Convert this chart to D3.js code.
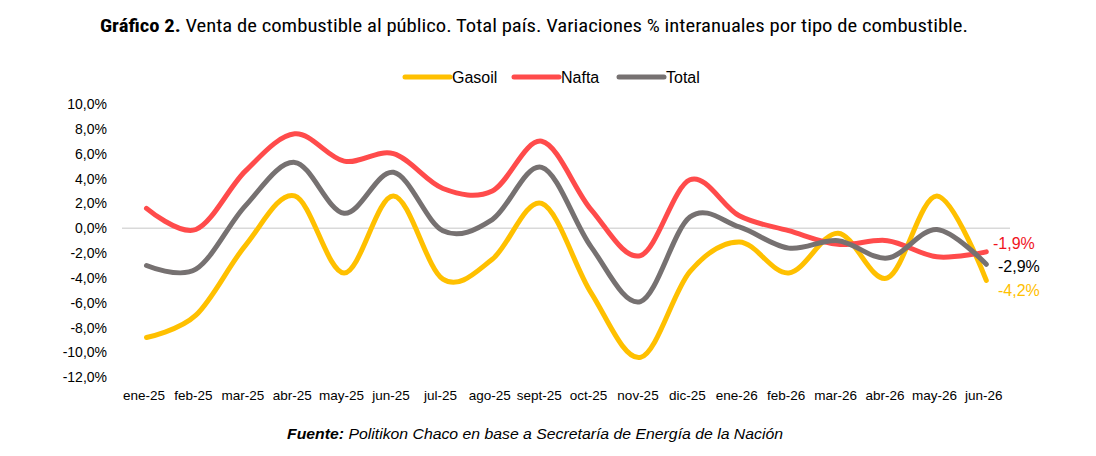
<!DOCTYPE html>
<html>
<head>
<meta charset="utf-8">
<script src="https://cdn.jsdelivr.net/npm/d3@7"></script>
<style>
  body { margin: 0; background: #fff; }
  text { font-family: "Liberation Sans", Arial, sans-serif; }
</style>
</head>
<body>
<div id="chart"></div>
<script>
// data
var months = ["ene-25", "feb-25", "mar-25", "abr-25", "may-25", "jun-25", "jul-25", "ago-25", "sept-25",
    "oct-25", "nov-25", "dic-25", "ene-26", "feb-26", "mar-26", "abr-26", "may-26", "jun-26"];
var gasoil = [-8.8, -7.0, -1.4, 2.6, -3.6, 2.6, -4.1, -2.5, 2.0, -5.2, -10.4, -3.5, -1.1, -3.6, -0.4, -4.0, 2.6, -4.2];
var nafta = [1.6, -0.1, 4.6, 7.6, 5.4, 6.0, 3.2, 3.0, 7.0, 1.5, -2.2, 3.9, 1.0, -0.2, -1.3, -1.0, -2.3, -1.9];
var total = [-3.0, -3.3, 1.8, 5.3, 1.2, 4.5, -0.2, 0.7, 4.9, -1.5, -5.9, 0.9, 0.1, -1.6, -1.0, -2.4, -0.1, -2.9];
var yTicks = [10, 8, 6, 4, 2, 0, -2, -4, -6, -8, -10, -12];

var seriesNames = ["Gasoil", "Nafta", "Total"];
var seriesValues = [gasoil, nafta, total];
var colors = ["#FFC000", "#FF4B4B", "#767171"];
var endColors = ["#FFC000", "#F0141E", "#000000"];

var svgWidth = 1096;
var svgHeight = 456;

var svg = d3.select("#chart")
    .append("svg")
    .attr("width", svgWidth)
    .attr("height", svgHeight);

// scales
var x = d3.scalePoint()
    .domain(months)
    .range([146.5, 986.3]);

var y = d3.scaleLinear()
    .domain([-12, 10])
    .range([377.3, 104]);

var fmt = function (v) { return d3.format(".1f")(v).replace("−", "-").replace(".", ",") + "%"; };

// title
var title = svg.append("text")
    .attr("x", 100)
    .attr("y", 32)
    .attr("textLength", 868)
    .attr("lengthAdjust", "spacingAndGlyphs")
    .style("font-family", "'Liberation Sans Narrow', 'Roboto Condensed', 'DejaVu Sans Condensed', sans-serif")
    .style("font-size", "19px")
    .style("fill", "#000");
title.append("tspan").style("font-weight", "bold").text("Gráfico 2.");
title.append("tspan").text(" Venta de combustible al público. Total país. Variaciones % interanuales por tipo de combustible.");

// legend
var legendX = [405, 514, 619];
seriesNames.forEach(function (name, i) {
    svg.append("line")
        .attr("x1", legendX[i])
        .attr("x2", legendX[i] + 45)
        .attr("y1", 77)
        .attr("y2", 77)
        .attr("stroke", colors[i])
        .attr("stroke-width", 5)
        .attr("stroke-linecap", "round");
    svg.append("text")
        .attr("x", legendX[i] + 47)
        .attr("y", 83)
        .style("font-size", "16px")
        .style("fill", "#000")
        .text(name);
});

// y axis (labels only)
var leftAxis = d3.axisLeft(y)
    .tickValues(yTicks)
    .tickFormat(fmt)
    .tickSize(0)
    .tickPadding(0);

var yAxis = svg.append("g")
    .attr("transform", "translate(107, 0)")
    .call(leftAxis);
yAxis.select(".domain").remove();
yAxis.selectAll("text")
    .style("font-family", "'Liberation Sans', Arial, sans-serif")
    .style("font-size", "14px")
    .style("fill", "#000");

// zero line
svg.append("line")
    .attr("x1", 122)
    .attr("x2", 1010)
    .attr("y1", y(0))
    .attr("y2", y(0))
    .attr("stroke", "#D9D9D9")
    .attr("stroke-width", 1.5);

// x axis (labels only)
var bottomAxis = d3.axisBottom(x)
    .tickSize(0)
    .tickPadding(0);

var xAxis = svg.append("g")
    .attr("transform", "translate(-3, 390)")
    .call(bottomAxis);
xAxis.select(".domain").remove();
xAxis.selectAll("text")
    .style("font-family", "'Liberation Sans', Arial, sans-serif")
    .style("font-size", "13.5px")
    .style("fill", "#000");

// lines
var line = d3.line()
    .x(function (d, i) { return x(months[i]); })
    .y(function (d) { return y(d); })
    .curve(d3.curveCardinal.tension(0));

seriesValues.forEach(function (vals, i) {
    svg.append("path")
        .datum(vals)
        .attr("d", line)
        .attr("fill", "none")
        .attr("stroke", colors[i])
        .attr("stroke-width", 5)
        .attr("stroke-linecap", "round")
        .attr("stroke-linejoin", "round");
});

// end labels
var endY = [296, 249, 272];
var endX = [998, 993, 998];
seriesValues.forEach(function (vals, i) {
    svg.append("text")
        .attr("x", endX[i])
        .attr("y", endY[i])
        .style("font-size", "16px")
        .style("fill", endColors[i])
        .text(fmt(vals[vals.length - 1]));
});

// source
var src = svg.append("text")
    .attr("x", 287)
    .attr("y", 439)
    .attr("textLength", 496)
    .attr("lengthAdjust", "spacingAndGlyphs")
    .style("font-size", "15px")
    .style("font-style", "italic")
    .style("fill", "#000");
src.append("tspan").style("font-weight", "bold").text("Fuente:");
src.append("tspan").text(" Politikon Chaco en base a Secretaría de Energía de la Nación");
</script>
</body>
</html>
